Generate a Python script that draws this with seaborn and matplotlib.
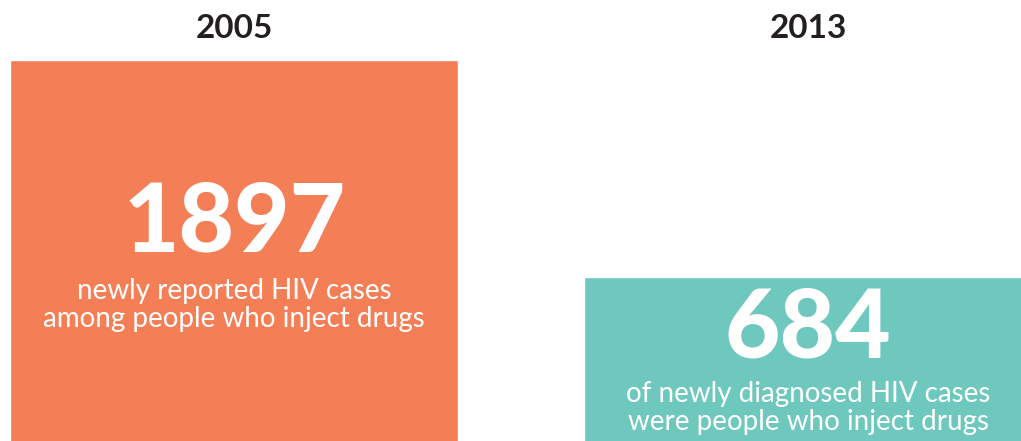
import matplotlib
matplotlib.use("Agg")
import matplotlib.pyplot as plt
import matplotlib.transforms as mtransforms
import seaborn as sns
import numpy as np
import pandas as pd

# data
years = ["2005", "2013"]
cases = [1897, 684]
captions = [
    "newly reported HIV cases\namong people who inject drugs",
    "of newly diagnosed HIV cases\nwere people who inject drugs",
]
bar_colors = ["#F47F56", "#6EC8BE"]

# layout (pixel rows of the reference, measured from the top)
W, H = 1021, 441
number_baseline_px = [252, 357]
caption_top_px = [278, 381]

sns.set_theme(style="white")
plt.rcParams["font.family"] = ["Lato", "DejaVu Sans"]

fig = plt.figure(figsize=(W / 100, H / 100), dpi=100)
ax = fig.add_axes([0, 0, 1, 1])

df = pd.DataFrame({"year": years, "cases": cases})
sns.barplot(data=df, x="year", y="cases", hue="year", palette=bar_colors,
            width=0.78, legend=False, ax=ax, saturation=1)

# log value axis so both bar tops land where the reference puts them
ax.set_yscale("log")
ax.set_ylim(316.4, 2515)
ax.set_xlim(-0.4077, 1.371)
ax.axis("off")

trans = mtransforms.blended_transform_factory(ax.transData, ax.transAxes)
for i, (yr, n, cap) in enumerate(zip(years, cases, captions)):
    ax.text(i, 1 - 28 / H, yr, transform=trans, ha="center", va="center",
            fontsize=24, fontweight="bold", color="#231F20")
    ax.text(i, 1 - number_baseline_px[i] / H, f"{n}", transform=trans,
            ha="center", va="baseline", fontsize=69, fontweight="black",
            color="white")
    ax.text(i, 1 - caption_top_px[i] / H, cap, transform=trans,
            ha="center", va="top", fontsize=20, color="white",
            linespacing=1.1)

fig.savefig("out.png", dpi=100)
